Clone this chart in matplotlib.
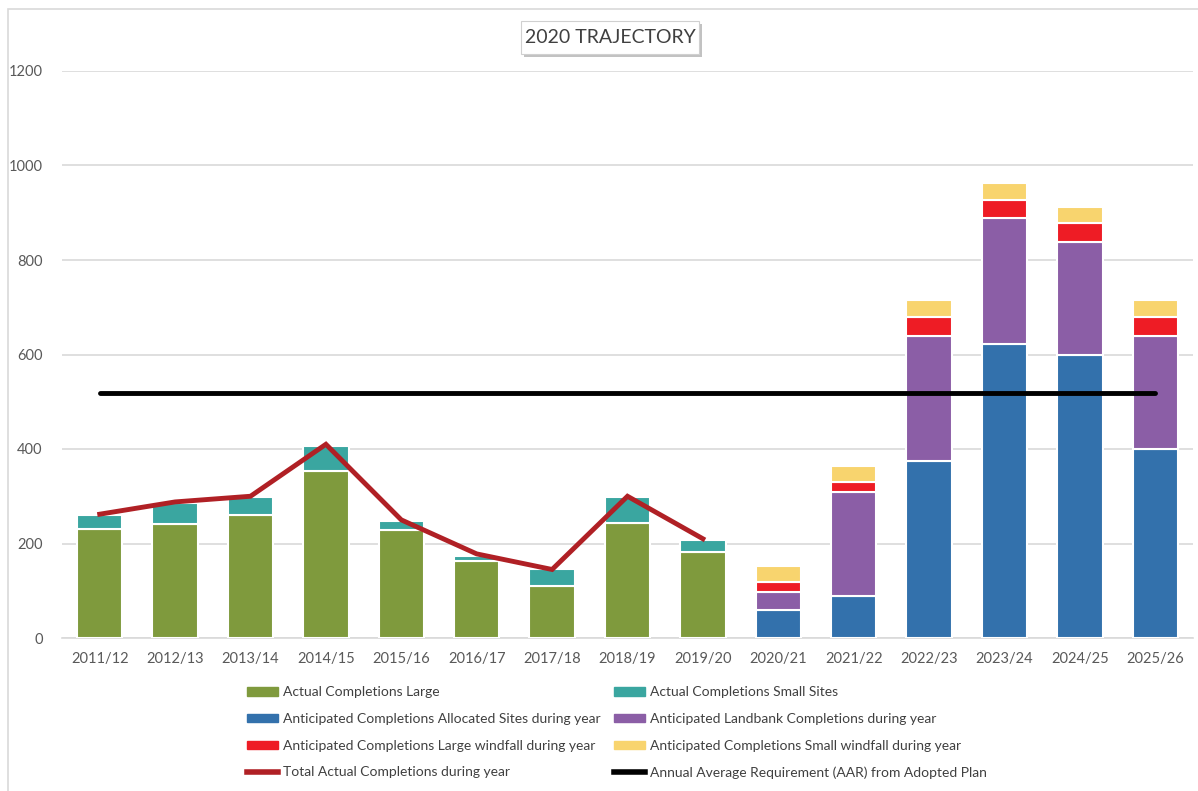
import matplotlib
matplotlib.use("Agg")
import matplotlib.pyplot as plt
import numpy as np
from matplotlib.patches import Rectangle, Patch
from matplotlib.lines import Line2D

years = ["2011/12", "2012/13", "2013/14", "2014/15", "2015/16", "2016/17", "2017/18",
         "2018/19", "2019/20", "2020/21", "2021/22", "2022/23", "2023/24", "2024/25", "2025/26"]
actual_large = [230, 242, 260, 354, 229, 163, 109, 243, 183, 0, 0, 0, 0, 0, 0]
actual_small = [30, 44, 38, 53, 19, 11, 36, 55, 25, 0, 0, 0, 0, 0, 0]
allocated = [0, 0, 0, 0, 0, 0, 0, 0, 0, 60, 88, 374, 623, 598, 401]
landbank = [0, 0, 0, 0, 0, 0, 0, 0, 0, 38, 222, 266, 265, 240, 238]
large_windfall = [0, 0, 0, 0, 0, 0, 0, 0, 0, 20, 20, 40, 40, 40, 40]
small_windfall = [0, 0, 0, 0, 0, 0, 0, 0, 0, 35, 35, 36, 34, 35, 36]
total_actual = [262, 288, 300, 410, 250, 178, 145, 300, 210]
aar = 518

series = [
    ("Actual Completions Large", actual_large, "#7F9A3D"),
    ("Actual Completions Small Sites", actual_small, "#3AA6A0"),
    ("Anticipated Completions Allocated Sites during year", allocated, "#3371AC"),
    ("Anticipated Landbank Completions during year", landbank, "#8B5EA6"),
    ("Anticipated Completions Large windfall during year", large_windfall, "#EE1C25"),
    ("Anticipated Completions Small windfall during year", small_windfall, "#F8D46E"),
]
line_color = "#B02025"

plt.rcParams['font.family'] = ['Lato', 'DejaVu Sans']

W, H = 1198, 791
fig = plt.figure(figsize=(W / 100, H / 100), dpi=100)
ax = fig.add_axes([62/W, (H-638)/H, (1193-62)/W, (638-71)/H])

x = np.arange(len(years))
bottom = np.zeros(len(years))
handles = {}
for name, vals, col in series:
    v = np.array(vals, dtype=float)
    mask = v > 0
    ax.bar(x[mask], v[mask], bottom=bottom[mask], width=0.6, color=col,
           edgecolor="white", linewidth=1.5, zorder=3)
    bottom += v
    handles[name] = Patch(facecolor=col, edgecolor=col)

ax.plot(x[:len(total_actual)], total_actual, color=line_color, lw=3.5, zorder=5,
        solid_joinstyle="miter")
ax.plot([x[0], x[-1]], [aar, aar], color="black", lw=3.5, zorder=6, solid_capstyle="round")

ax.set_xlim(-0.5, len(years) - 0.5)
ax.set_ylim(0, 1200)
ax.set_yticks(np.arange(0, 1201, 200))
ax.set_xticks(x)
ax.set_xticklabels(years)
ax.yaxis.grid(True, color="#D9D9D9", lw=1.2, zorder=0)
ax.set_axisbelow(True)
for s in ["top", "right", "left"]:
    ax.spines[s].set_visible(False)
ax.spines["bottom"].set_color("#D9D9D9")
ax.spines["bottom"].set_linewidth(1.2)
ax.tick_params(axis="both", length=0, labelsize=10.5, colors="#595959", pad=10)
ax.tick_params(axis="y", pad=14)

# Title box with shadow (patches) and text
bx0, by0, bx1, by1 = 521, 21, 699, 54
fig.add_artist(Rectangle(((bx0 + 3)/W, 1 - (by1 + 3)/H), (bx1 - bx0)/W, (by1 - by0)/H,
                         transform=fig.transFigure, facecolor="#A8A8A8", edgecolor="none",
                         alpha=0.7, zorder=10))
fig.add_artist(Rectangle((bx0/W, 1 - by1/H), (bx1 - bx0)/W, (by1 - by0)/H,
                         transform=fig.transFigure, facecolor="white", edgecolor="#D0D0D0",
                         lw=0.8, zorder=11))
fig.text((bx0 + bx1)/2/W, 1 - (by0 + by1)/2/H, "2020 TRAJECTORY", ha="center", va="center",
         fontsize=14, color="#404040", zorder=12)

# Legends
h_total = Line2D([], [], color=line_color, lw=4)
h_aar = Line2D([], [], color="black", lw=4)
left_items = [(handles[series[0][0]], series[0][0]), (handles[series[2][0]], series[2][0]),
              (handles[series[4][0]], series[4][0]), (h_total, "Total Actual Completions during year")]
right_items = [(handles[series[1][0]], series[1][0]), (handles[series[3][0]], series[3][0]),
               (handles[series[5][0]], series[5][0]), (h_aar, "Annual Average Requirement (AAR) from Adopted Plan")]
for items, xpos in [(left_items, 234/W), (right_items, 601/W)]:
    fig.legend([h for h, _ in items], [l for _, l in items], loc="upper left",
               bbox_to_anchor=(xpos, 1 - 674/H), frameon=False, fontsize=10,
               handlelength=2.3, handleheight=0.55, handletextpad=0.3,
               labelspacing=1.05, labelcolor="#404040")

# outer border
fig.add_artist(Rectangle((8/W, -0.01), 1.2, 1 + 0.01 - 9/H, transform=fig.transFigure,
                         fill=False, edgecolor="#D9D9D9", lw=1.2))

fig.savefig("out.png", dpi=100)
